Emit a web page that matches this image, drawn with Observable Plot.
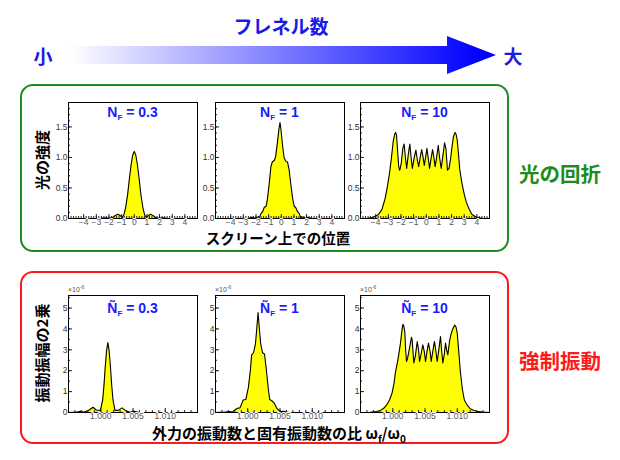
<!DOCTYPE html>
<html><head><meta charset="utf-8">
<script src="https://cdn.jsdelivr.net/npm/d3@7"></script>
<script src="https://cdn.jsdelivr.net/npm/@observablehq/plot@0.6"></script>
<style>
body{margin:0;background:#fff;}
#root{position:relative;width:620px;height:460px;overflow:hidden;font-family:"Noto Sans CJK JP",sans-serif;}
.a{position:absolute;white-space:nowrap;line-height:1;}
.jp{font-family:"Noto Sans CJK JP",sans-serif;font-weight:bold;}
.pt{position:absolute;white-space:nowrap;line-height:1;font-family:"Liberation Sans",Arial,sans-serif;font-weight:bold;color:#1a1aff;font-size:14px;transform:translate(-50%,-50%);}
.pt sub{font-size:8px;vertical-align:-3px;}
.box{position:absolute;box-sizing:border-box;border-radius:13px;border:2px solid;}
.exp{position:absolute;font-family:"Liberation Sans",Arial,sans-serif;font-size:7px;color:#555;line-height:1;}
.exp sup{font-size:5px;vertical-align:3px;}
</style>
</head><body><div id="root"></div>
<script>
// ---- data ----
const diffractionTitles = ["0.3", "1", "10"];
const diffraction03 = [[-5.2,0],[-3.0,0],[-2.6,0.005],[-2.3,0.012],[-2.0,0.004],[-1.75,0.015],[-1.5,0.05],[-1.3,0.07],[-1.1,0.045],[-0.95,0.02],[-0.82,0.06],[-0.68,0.18],[-0.52,0.4],[-0.38,0.66],[-0.25,0.88],[-0.12,1.04],[0,1.10],[0.12,1.04],[0.25,0.88],[0.38,0.66],[0.52,0.4],[0.68,0.18],[0.82,0.06],[0.95,0.02],[1.1,0.045],[1.28,0.07],[1.48,0.05],[1.72,0.015],[1.95,0.004],[2.25,0.012],[2.55,0.005],[3.0,0],[5.0,0]];
const diffraction1 = [[-5.2,0],[-2.6,0],[-2.3,0.02],[-2.1,0.005],[-1.9,0.025],[-1.75,0.01],[-1.6,0.08],[-1.45,0.12],[-1.35,0.18],[-1.2,0.2],[-1.1,0.31],[-0.95,0.57],[-0.82,0.85],[-0.7,0.93],[-0.55,0.95],[-0.45,1.01],[-0.3,1.25],[-0.18,1.47],[-0.1,1.57],[-0.02,1.45],[0.1,1.2],[0.22,1.0],[0.35,0.94],[0.5,0.92],[0.62,0.8],[0.75,0.57],[0.9,0.33],[1.02,0.2],[1.14,0.18],[1.27,0.12],[1.42,0.08],[1.55,0.01],[1.7,0.025],[1.9,0.005],[2.1,0.02],[2.4,0],[5.0,0]];
const diffraction10 = [[-5.2,0],[-4.6,0.003],[-4.2,0.02],[-3.8,0.06],[-3.5,0.15],[-3.25,0.33],[-3.05,0.55],[-2.9,0.75],[-2.75,1.0],[-2.62,1.25],[-2.5,1.38],[-2.42,1.41],[-2.35,1.36],[-2.28,1.15],[-2.18,0.85],[-2.1,0.79],[-1.98,0.9],[-1.85,1.15],[-1.75,1.22],[-1.65,1.0],[-1.55,0.82],[-1.42,1.05],[-1.3,1.22],[-1.2,1.0],[-1.1,0.82],[-0.95,1.0],[-0.82,1.12],[-0.7,0.95],[-0.6,0.85],[-0.48,1.0],[-0.36,1.13],[-0.25,1.0],[-0.16,0.87],[-0.05,1.0],[0.05,1.15],[0.15,1.0],[0.26,0.82],[0.38,0.98],[0.5,1.13],[0.6,1.0],[0.7,0.85],[0.82,1.0],[0.95,1.2],[1.05,1.0],[1.18,0.82],[1.3,1.0],[1.45,1.24],[1.55,1.15],[1.68,0.79],[1.8,0.82],[1.92,0.97],[2.05,1.2],[2.15,1.34],[2.28,1.41],[2.36,1.38],[2.45,1.28],[2.55,1.05],[2.65,0.8],[2.8,0.6],[3.0,0.4],[3.15,0.28],[3.35,0.17],[3.6,0.07],[3.95,0.02],[4.4,0.003],[5.0,0]];

const oscillationTitles = ["0.3", "1", "10"];
const oscillation03 = [[0.995,0],[0.9963,0.02],[0.9969,0.06],[0.9974,0.01],[0.9982,0.12],[0.9988,0.25],[0.9993,0.12],[0.99995,0.1],[1.0003,0.6],[1.0005,1.3],[1.0007,2.2],[1.0009,2.95],[1.0011,3.35],[1.0013,2.95],[1.0015,2.2],[1.0017,1.3],[1.0019,0.6],[1.0022,0.1],[1.0027,0.1],[1.0033,0.22],[1.0038,0.1],[1.0045,0.01],[1.0052,0.06],[1.0058,0.01],[1.015,0]];
const oscillation1 = [[0.995,0],[0.9965,0.02],[0.9972,0.05],[0.9976,0.02],[0.998,0.12],[0.9984,0.2],[0.9988,0.22],[0.9991,0.45],[0.9993,0.6],[0.9997,0.62],[1.0001,1.2],[1.0004,2.0],[1.0006,2.75],[1.0009,2.86],[1.0012,3.3],[1.00145,4.2],[1.0016,4.78],[1.00175,4.2],[1.002,3.3],[1.0023,2.86],[1.0026,2.8],[1.0029,2.0],[1.0032,1.1],[1.0034,0.62],[1.0038,0.55],[1.0041,0.45],[1.0045,0.2],[1.0048,0.12],[1.0052,0.05],[1.0056,0.06],[1.006,0.02],[1.0065,0],[1.015,0]];
const oscillation10 = [[0.995,0],[0.9965,0.01],[0.9975,0.05],[0.9981,0.1],[0.9986,0.2],[0.9991,0.38],[0.9995,0.6],[0.9999,0.94],[1.0002,1.4],[1.0004,1.89],[1.0008,2.52],[1.0012,3.32],[1.00145,4.0],[1.00158,4.22],[1.0017,4.15],[1.00187,3.85],[1.002,3.0],[1.00213,2.44],[1.0023,2.6],[1.0026,3.08],[1.0029,3.6],[1.003,3.5],[1.00327,2.37],[1.0035,2.7],[1.0038,3.4],[1.004,3.0],[1.00415,2.44],[1.0044,2.8],[1.00466,3.24],[1.0049,2.9],[1.00508,2.44],[1.0053,2.9],[1.00554,3.32],[1.0058,2.9],[1.00596,2.44],[1.0062,2.9],[1.00647,3.4],[1.0067,2.9],[1.00689,2.44],[1.0071,2.9],[1.0074,3.63],[1.0076,2.9],[1.00776,2.37],[1.008,2.8],[1.00818,3.32],[1.00835,3.0],[1.00854,2.76],[1.0088,3.4],[1.009,3.7],[1.0093,4.0],[1.0096,4.19],[1.0098,4.1],[1.01,3.8],[1.01025,2.84],[1.0105,1.89],[1.0108,1.1],[1.0111,0.6],[1.0115,0.38],[1.012,0.18],[1.0126,0.1],[1.0133,0.04],[1.014,0.02],[1.015,0]];

const topXTicks = [-4,-3,-2,-1,0,1,2,3,4];
const topYTicks = [0,0.5,1.0,1.5];
const botXTicks = [1.000,1.005,1.010];
const botYTicks = [0,1,2,3,4,5];

// ---- layout ----
const root = document.getElementById("root");
const FW = 129, ML = 26, MR = 4, MT = 4, MB = 14;
const lefts = [68, 215, 360];

function panel(data, cfg, left, top, fh) {
  const el = Plot.plot({
    width: ML + FW + MR, height: MT + fh + MB,
    marginLeft: ML, marginRight: MR, marginTop: MT, marginBottom: MB,
    x: {domain: cfg.xDomain}, y: {domain: cfg.yDomain},
    style: {background: "none", overflow: "visible", fontFamily: "'Liberation Sans', Arial, sans-serif"},
    marks: [
      Plot.areaY(data, {x: d => d[0], y: d => d[1], fill: "#ffff00"}),
      Plot.lineY(data, {x: d => d[0], y: d => d[1], stroke: "#000", strokeWidth: 1.1}),
      Plot.axisX({ticks: cfg.xMinor, tickSize: 2, dy: -2, fill: "none", stroke: "#222", label: null}),
      Plot.axisX({ticks: cfg.xTicks, tickSize: 4, dy: -4, fill: "none", stroke: "#222", label: null}),
      Plot.axisY({ticks: cfg.yMinor, tickSize: 2, dx: 2, fill: "none", stroke: "#222", label: null}),
      Plot.axisY({ticks: cfg.yTicks, tickSize: 4, dx: 4, fill: "none", stroke: "#222", label: null}),
      Plot.frame({stroke: "#000", strokeWidth: 1}),
      Plot.axisX({ticks: cfg.xTicks, tickSize: 0, tickPadding: 0, tickFormat: cfg.xFmt, fontSize: 8.5, fill: "#555", textStroke: "#fff", textStrokeWidth: 2, label: null}),
      Plot.axisY({ticks: cfg.yTicks, tickSize: 0, tickPadding: 1, tickFormat: cfg.yFmt, fontSize: 8.5, fill: "#333", label: null})
    ]
  });
  el.style.position = "absolute";
  el.style.left = (left - ML) + "px";
  el.style.top = (top - MT) + "px";
  root.appendChild(el);
}

const topCfg = {xDomain: [-5.2, 5.0], yDomain: [0, 1.9], xTicks: topXTicks,
  xMinor: d3.range(-50, 51, 2).map(v => v / 10), yTicks: topYTicks,
  yMinor: d3.range(0, 19).map(v => v / 10), xFmt: d3.format("d"), yFmt: d3.format(".1f")};
const botCfg = {xDomain: [0.995, 1.015], yDomain: [0, 5.6], xTicks: botXTicks,
  xMinor: d3.range(996, 1015).map(v => v / 1000), yTicks: botYTicks,
  yMinor: d3.range(0, 12).map(v => v / 2), xFmt: d3.format(".3f"), yFmt: d3.format("d")};

function div(cls, style, html) {
  const d = document.createElement("div");
  d.className = cls; d.setAttribute("style", style); d.innerHTML = html || "";
  root.appendChild(d); return d;
}
div("box", "left:20px;top:84px;width:489px;height:168px;border-color:#1e8c1e;");
div("box", "left:20px;top:271px;width:489px;height:173px;border-color:#ff1a1a;");

[diffraction03, diffraction1, diffraction10].forEach((d, i) => panel(d, topCfg, lefts[i], 102, 116));
[oscillation03, oscillation1, oscillation10].forEach((d, i) => panel(d, botCfg, lefts[i], 294.5, 117));

diffractionTitles.forEach((t, i) => div("pt", `left:${lefts[i] + FW/2}px;top:113px;`, `N<sub>F</sub> = ${t}`));
oscillationTitles.forEach((t, i) => div("pt", `left:${lefts[i] + FW/2}px;top:309px;`, `Ñ<sub>F</sub> = ${t}`));
lefts.forEach(l => div("exp", `left:${l}px;top:285px;`, "×10<sup>-6</sup>"));

div("a jp", "left:41px;top:160px;font-size:15px;color:#000;transform:translate(-50%,-50%) rotate(-90deg);", "光の強度");
div("a jp", "left:278px;top:238px;font-size:14.5px;color:#000;transform:translate(-50%,-50%);", "スクリーン上での位置");
div("a jp", "left:41px;top:353px;font-size:15px;color:#000;transform:translate(-50%,-50%) rotate(-90deg);", "振動振幅の2乗");
div("a jp", "left:279px;top:434px;font-size:15px;color:#000;transform:translate(-50%,-50%);", "外力の振動数と固有振動数の比 ω<sub style='font-size:10px'>f</sub>/ω<sub style='font-size:10px'>0</sub>");

div("a jp", "left:560px;top:173px;font-size:20.5px;color:#1e8c1e;transform:translate(-50%,-50%);", "光の回折");
div("a jp", "left:560px;top:360px;font-size:20.5px;color:#ff1a1a;transform:translate(-50%,-50%);", "強制振動");

div("a jp", "left:281px;top:25px;font-size:19px;color:#1a1ae6;transform:translate(-50%,-50%);", "フレネル数");
div("a jp", "left:43px;top:55px;font-size:19px;color:#1a1ae6;transform:translate(-50%,-50%);", "小");
div("a jp", "left:513px;top:55px;font-size:19px;color:#1a1ae6;transform:translate(-50%,-50%);", "大");
const ns = "http://www.w3.org/2000/svg";
const svg = document.createElementNS(ns, "svg");
svg.setAttribute("width", 620); svg.setAttribute("height", 90);
svg.setAttribute("style", "position:absolute;left:0;top:0;");
svg.innerHTML = `<defs><linearGradient id="g" gradientUnits="userSpaceOnUse" x1="70" y1="0" x2="480" y2="0">
<stop offset="0" stop-color="#ffffff"/><stop offset="1" stop-color="#0000ff"/></linearGradient></defs>
<path d="M70,46 L447,46 L447,36 L496,55 L447,74 L447,64 L70,64 Z" fill="url(#g)"/>`;
root.appendChild(svg);
</script>
</body></html>
